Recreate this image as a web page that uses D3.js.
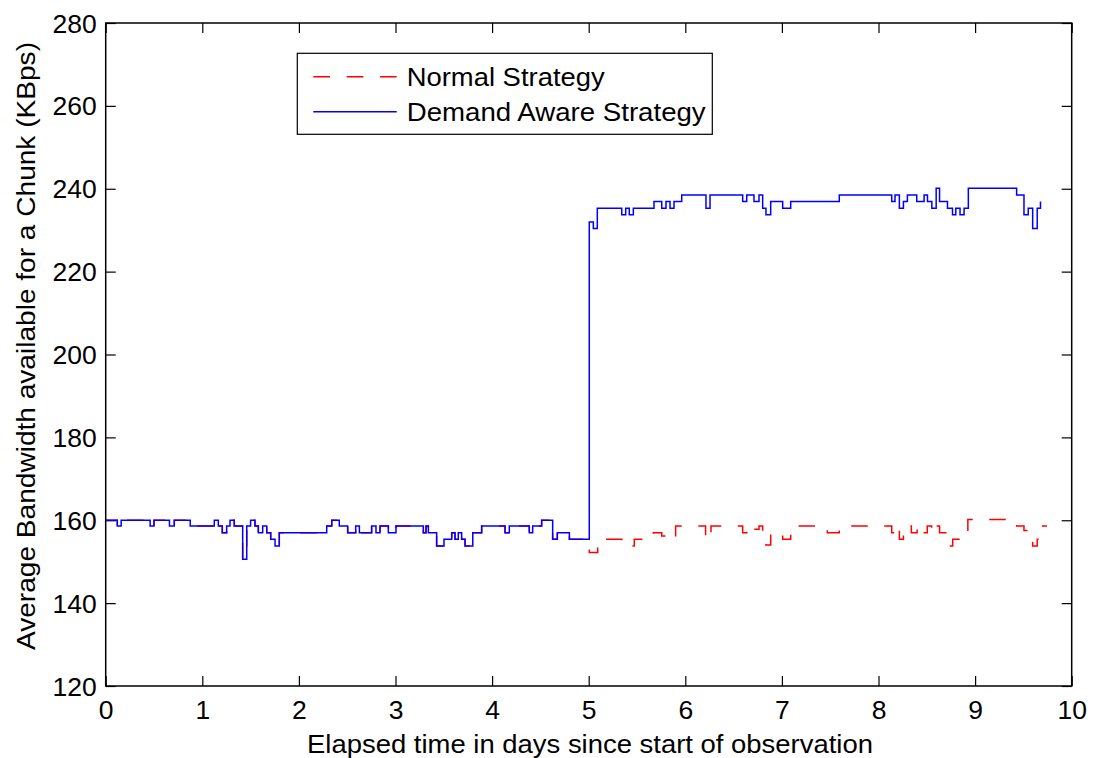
<!DOCTYPE html>
<html>
<head>
<meta charset="utf-8">
<script src="https://cdn.jsdelivr.net/npm/d3@7"></script>
<style>
  html, body { margin: 0; padding: 0; background: #fff; }
  svg { display: block; }
  text { font-family: "Liberation Sans", Arial, Helvetica, sans-serif; fill: #000; }
</style>
</head>
<body>
<svg id="chart" width="1093" height="758"></svg>
<script>
// Step series: both strategies share the same history for the first five days.
const sharedDays = [0, 0.12, 0.16, 0.46, 0.50, 0.66, 0.71, 0.875, 1.124, 1.166, 1.207, 1.252, 1.287, 1.331,
  1.418, 1.46, 1.50, 1.545, 1.58, 1.625, 1.667, 1.708, 1.753, 1.797, 2.288, 2.34, 2.418, 2.505, 2.588,
  2.626, 2.753, 2.798, 2.84, 2.926, 3.005, 3.288, 3.316, 3.34, 3.426, 3.502, 3.582, 3.616, 3.65, 3.685,
  3.72, 3.80, 3.892, 4.134, 4.178, 4.385, 4.42, 4.513, 4.627, 4.675, 4.80];
const sharedValues = [160, 158.6, 160, 158.6, 160, 158.6, 160, 158.6, 160, 158.6, 157.0, 158.6, 160, 158.6,
  150.6, 158.6, 160, 158.6, 157.0, 158.6, 157.0, 155.4, 153.8, 157.0, 158.6, 160, 158.6, 157.0, 158.6,
  157.0, 158.6, 157.0, 158.6, 157.0, 158.6, 157.0, 158.6, 157.0, 153.8, 155.4, 157.0, 155.4, 157.0, 155.4,
  153.8, 157.0, 158.6, 157.0, 158.6, 157.0, 158.6, 160, 155.4, 157.0, 155.4];

// Normal strategy after day five
const normalDays = [5.006, 5.093, 5.342, 5.472, 5.669, 5.756, 5.842, 5.90, 6.21, 6.266, 6.594, 6.636,
  6.711, 6.763, 6.801, 6.835, 6.884, 7.008, 7.091, 7.47, 7.594, 8.137, 8.171, 8.216, 8.258, 8.299, 8.34,
  8.40, 8.463, 8.505, 8.55, 8.597, 8.632, 8.714, 8.768, 8.925, 9.43, 9.506, 9.596, 9.643, 9.662, 9.745];
const normalValues = [152.2, 155.4, 153.8, 155.4, 157.0, 156.2, 155.4, 158.6, 155.4, 158.6, 157.0, 158.6,
  157.8, 158.6, 155.4, 154.0, 157.0, 155.4, 158.6, 157.0, 158.6, 157.0, 158.6, 155.4, 157.0, 158.6, 157.0,
  158.6, 157.0, 158.6, 157.0, 158.6, 157.0, 153.8, 155.4, 160.2, 158.6, 157.5, 153.8, 155.4, 158.6, 158.6];

// Demand aware strategy after day five
const demandDays = [5.006, 5.048, 5.089, 5.342, 5.383, 5.42, 5.462, 5.676, 5.756, 5.80, 5.842, 5.883,
  5.963, 6.214, 6.256, 6.594, 6.636, 6.711, 6.763, 6.801, 6.835, 6.884, 7.008, 7.091, 7.594, 8.137,
  8.171, 8.216, 8.258, 8.299, 8.396, 8.472, 8.507, 8.552, 8.597, 8.632, 8.714, 8.766, 8.80, 8.844,
  8.886, 8.93, 9.43, 9.506, 9.55, 9.596, 9.643, 9.677];
const demandValues = [232.0, 230.4, 235.3, 233.7, 235.3, 233.7, 235.3, 236.9, 235.3, 236.9, 235.3, 236.9,
  238.5, 235.3, 238.5, 236.9, 238.5, 236.9, 238.5, 235.3, 233.7, 236.9, 235.3, 236.9, 238.5, 236.9,
  238.5, 235.3, 236.9, 238.5, 236.9, 238.5, 236.9, 235.3, 240.1, 236.9, 235.3, 233.7, 235.3, 233.7,
  235.3, 240.1, 238.5, 233.7, 235.3, 230.4, 235.3, 236.9];

const xTicks = [0, 1, 2, 3, 4, 5, 6, 7, 8, 9, 10];
const yTicks = [120, 140, 160, 180, 200, 220, 240, 260, 280];
const seriesNames = ["Normal Strategy", "Demand Aware Strategy"];
const xTitle = "Elapsed time in days since start of observation";
const yTitle = "Average Bandwidth available for a Chunk (KBps)";

const toPoints = (days, values) => days.map((d, i) => ({ x: d, y: values[i] }));
const normalSeries = toPoints(sharedDays.concat(normalDays), sharedValues.concat(normalValues));
const demandSeries = toPoints(sharedDays.concat(demandDays), sharedValues.concat(demandValues));

const svg = d3.select("#chart");
const W = 1093, H = 758;
const margin = { left: 105.7, right: W - 1071.7, top: 23, bottom: H - 686 };
const plotW = W - margin.left - margin.right;
const plotH = H - margin.top - margin.bottom;

const x = d3.scaleLinear().domain([0, 10]).range([0, plotW]);
const y = d3.scaleLinear().domain([120, 280]).range([plotH, 0]);

const g = svg.append("g").attr("transform", `translate(${margin.left},${margin.top})`);

const tickFont = 26.5;
const labelFont = 26;
const tickLen = 10;

// Axes with inward ticks, mirrored on the top and right edges
const bottomAxis = d3.axisBottom(x).tickValues(xTicks).tickFormat(d3.format("d")).tickSizeInner(-tickLen).tickSizeOuter(0);
const leftAxis = d3.axisLeft(y).tickValues(yTicks).tickFormat(d3.format("d")).tickSizeInner(-tickLen).tickSizeOuter(0);
const topAxis = d3.axisTop(x).tickValues(xTicks).tickFormat("").tickSizeInner(-tickLen).tickSizeOuter(0);
const rightAxis = d3.axisRight(y).tickValues(yTicks).tickFormat("").tickSizeInner(-tickLen).tickSizeOuter(0);

function styleAxis(sel) {
  sel.select(".domain").remove();
  sel.selectAll(".tick line").attr("stroke", "#000").attr("stroke-width", 1.2);
  sel.selectAll(".tick text").style("font-size", tickFont + "px").attr("fill", "#000");
}

g.append("g").attr("transform", `translate(0,${plotH})`).call(bottomAxis).call(styleAxis)
  .selectAll(".tick text").attr("y", 33.3).attr("dy", 0);
g.append("g").call(leftAxis).call(styleAxis)
  .selectAll(".tick text").attr("x", -9).attr("dy", "0.34em");
g.append("g").call(topAxis).call(styleAxis);
g.append("g").attr("transform", `translate(${plotW},0)`).call(rightAxis).call(styleAxis);

// Series
const line = d3.line().x(d => x(d.x)).y(d => y(d.y)).curve(d3.curveStepAfter);

g.append("path")
  .datum(normalSeries)
  .attr("d", line)
  .attr("fill", "none")
  .attr("stroke", "#ff0000")
  .attr("stroke-width", 1.5)
  .attr("stroke-dasharray", "16.5,16.5");

g.append("path")
  .datum(demandSeries)
  .attr("d", line)
  .attr("fill", "none")
  .attr("stroke", "#0000ff")
  .attr("stroke-width", 1.5);

// Plot frame
g.append("rect")
  .attr("x", 0).attr("y", 0).attr("width", plotW).attr("height", plotH)
  .attr("fill", "none").attr("stroke", "#000").attr("stroke-width", 1.5);

// Axis titles
svg.append("text")
  .attr("x", 590)
  .attr("y", 753)
  .attr("text-anchor", "middle")
  .attr("textLength", 566)
  .attr("lengthAdjust", "spacingAndGlyphs")
  .style("font-size", labelFont + "px")
  .text(xTitle);

svg.append("text")
  .attr("transform", "translate(35,346) rotate(-90)")
  .attr("text-anchor", "middle")
  .attr("textLength", 608)
  .attr("lengthAdjust", "spacingAndGlyphs")
  .style("font-size", labelFont + "px")
  .text(yTitle);

// Legend
const legend = svg.append("g").attr("transform", "translate(297.3,53.3)");
legend.append("rect")
  .attr("width", 415).attr("height", 81)
  .attr("fill", "#fff").attr("stroke", "#000").attr("stroke-width", 1.2);

const legendStyles = [
  { color: "#ff0000", dash: "16.7,16.7", width: 198 },
  { color: "#0000ff", dash: null, width: 299 }
];
seriesNames.forEach((name, i) => {
  const cy = 23.4 + i * 35;
  legend.append("line")
    .attr("x1", 16).attr("x2", 99.4).attr("y1", cy).attr("y2", cy)
    .attr("stroke", legendStyles[i].color).attr("stroke-width", 1.5)
    .attr("stroke-dasharray", legendStyles[i].dash);
  legend.append("text")
    .attr("x", 109.4).attr("y", cy + 9.5)
    .attr("textLength", legendStyles[i].width)
    .attr("lengthAdjust", "spacingAndGlyphs")
    .style("font-size", labelFont + "px")
    .text(name);
});
</script>
</body>
</html>
